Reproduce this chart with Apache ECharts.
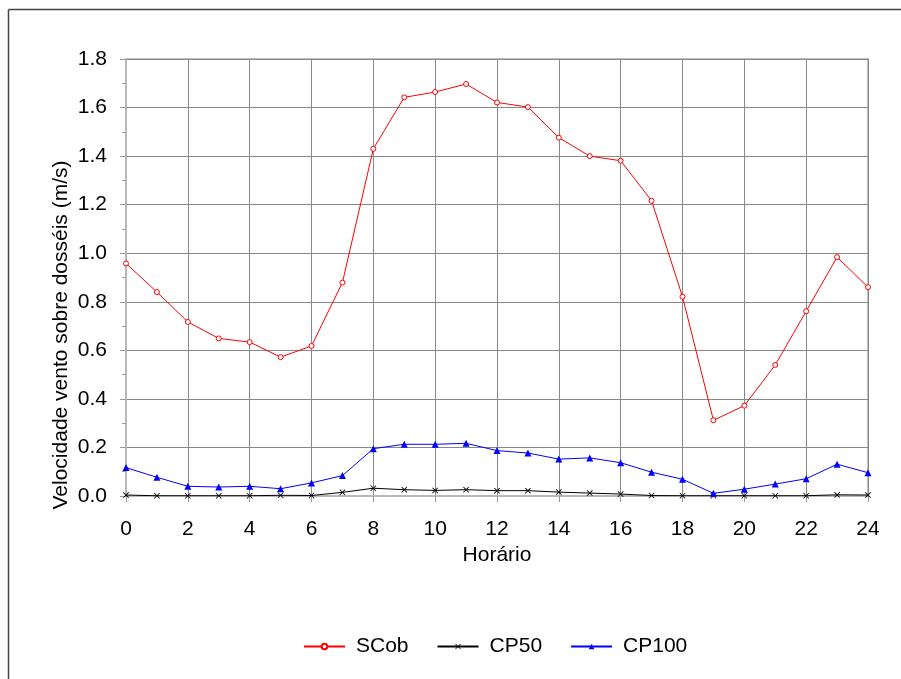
<!DOCTYPE html>
<html>
<head>
<meta charset="utf-8">
<script src="https://cdn.jsdelivr.net/npm/echarts@6/dist/echarts.min.js"></script>
<style>
  html, body { margin: 0; padding: 0; background: #fff; }
  #chart { width: 901px; height: 679px; }
</style>
</head>
<body>
<div id="chart"></div>
<script>
// horas do dia
var horas = [0, 1, 2, 3, 4, 5, 6, 7, 8, 9, 10, 11, 12, 13, 14, 15, 16, 17, 18, 19, 20, 21, 22, 23, 24];

var scob = [0.958, 0.840, 0.717, 0.649, 0.634, 0.572, 0.618, 0.879, 1.430, 1.642, 1.664, 1.697, 1.621,
  1.602, 1.476, 1.400, 1.381, 1.216, 0.821, 0.312, 0.372, 0.540, 0.761, 0.984, 0.860];
var cp50 = [0.004, 0.001, 0.001, 0.001, 0.001, 0.003, 0.002, 0.015, 0.032, 0.026, 0.023, 0.026, 0.022,
  0.022, 0.016, 0.012, 0.008, 0.002, 0.001, 0.001, 0.001, 0.001, 0.001, 0.005, 0.004];
var cp100 = [0.117, 0.077, 0.040, 0.037, 0.040, 0.030, 0.054, 0.084, 0.195, 0.213, 0.213, 0.217, 0.187,
  0.177, 0.152, 0.157, 0.137, 0.098, 0.069, 0.011, 0.028, 0.049, 0.071, 0.131, 0.096];

function pares(vals) {
  return horas.map(function (h, i) { return [h, vals[i]]; });
}

var fonte = 'Liberation Sans, Arial, sans-serif';
var tam = 21;
var xis = 'path://M0,1L1,0L5,4L9,0L10,1L6,5L10,9L9,10L5,6L1,10L0,9L4,5Z';

var chart = echarts.init(document.getElementById('chart'), null, { renderer: 'canvas' });

var option = {
  backgroundColor: '#fff',
  animation: false,
  textStyle: { fontFamily: fonte },
  grid: {
    left: 126, right: 33, top: 59, bottom: 183,
    show: true, borderColor: '#c0c0c0', borderWidth: 2, backgroundColor: 'transparent'
  },
  legend: {
    top: 631, left: 298,
    itemWidth: 41, itemHeight: 7, itemGap: 28,
    textStyle: { fontSize: tam, color: '#000', fontFamily: fonte, padding: [0, 0, 0, 6] },
    data: ['SCob', 'CP50', 'CP100']
  },
  xAxis: {
    type: 'value', min: 0, max: 24, interval: 2,
    name: 'Horário', nameLocation: 'middle', nameGap: 49,
    nameTextStyle: { fontSize: tam, color: '#000', fontFamily: fonte },
    axisLine: { show: true, lineStyle: { color: '#b8b8b8', width: 2 } },
    axisTick: { show: true, length: 6, lineStyle: { color: '#999' } },
    axisLabel: { fontSize: tam, color: '#000', margin: 23, fontFamily: fonte },
    splitLine: { show: true, lineStyle: { color: '#888', width: 1 } }
  },
  yAxis: {
    type: 'value', min: 0, max: 1.8, interval: 0.2,
    axisLine: { show: true, lineStyle: { color: '#b8b8b8', width: 2 } },
    axisTick: { show: true, length: 6, lineStyle: { color: '#999' } },
    minorTick: { show: true, splitNumber: 2, length: 4, lineStyle: { color: '#999' } },
    axisLabel: {
      fontSize: tam, color: '#000', margin: 19, fontFamily: fonte,
      formatter: function (v) { return v.toFixed(1); }
    },
    splitLine: { show: true, lineStyle: { color: '#888', width: 1 } }
  },
  graphic: [
    { type: 'line', shape: { x1: 8.5, y1: 9.5, x2: 8.5, y2: 679 }, style: { stroke: '#444', lineWidth: 1.5 } },
    { type: 'line', shape: { x1: 8.5, y1: 9.5, x2: 901, y2: 9.5 }, style: { stroke: '#444', lineWidth: 1.5 } },
    {
      type: 'text', x: 61, y: 335, rotation: Math.PI / 2,
      style: {
        text: 'Velocidade vento sobre dosséis (m/s)',
        fontSize: tam, fontFamily: fonte, fill: '#000',
        align: 'center', verticalAlign: 'middle'
      }
    }
  ],
  series: [
    {
      name: 'SCob', type: 'line', data: pares(scob),
      symbol: 'circle', symbolSize: 5, showAllSymbol: true,
      lineStyle: { color: '#ff0000', width: 1 },
      itemStyle: { color: '#fff', borderColor: '#ff0000', borderWidth: 1 },
      z: 4
    },
    {
      name: 'CP50', type: 'line', data: pares(cp50),
      symbol: xis, symbolSize: 6,
      lineStyle: { color: '#000', width: 1 },
      itemStyle: { color: '#000' },
      z: 3
    },
    {
      name: 'CP100', type: 'line', data: pares(cp100),
      symbol: 'triangle', symbolSize: 7,
      lineStyle: { color: '#0000ff', width: 1 },
      itemStyle: { color: '#0000ff' },
      z: 3
    }
  ]
};

chart.setOption(option);
</script>
</body>
</html>
